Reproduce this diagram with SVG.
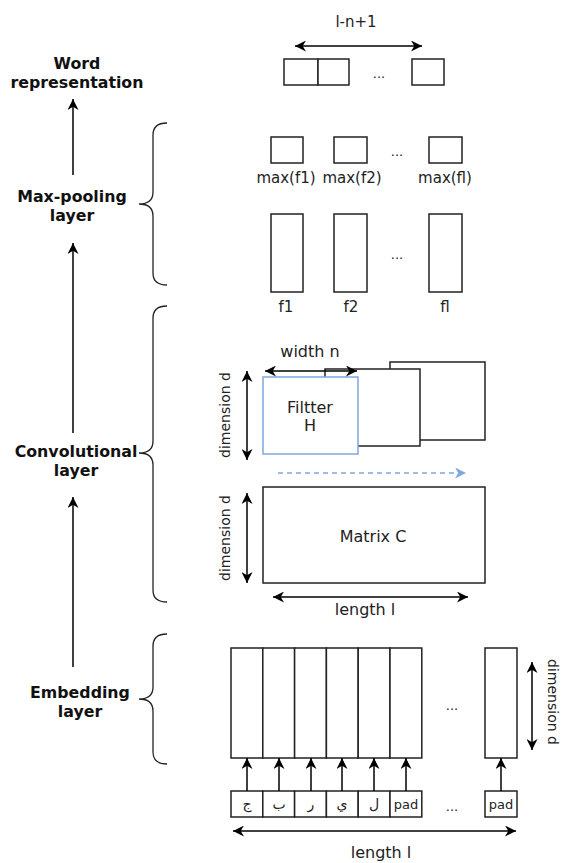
<svg xmlns="http://www.w3.org/2000/svg" width="561" height="863" viewBox="0 0 561 863">
<style>
.t{font-family:"DejaVu Sans","Liberation Sans",sans-serif;fill:#222;text-anchor:middle}
.b{font-family:"DejaVu Sans","Liberation Sans",sans-serif;font-weight:bold;fill:#111;text-anchor:middle;font-size:15.8px}
.box{fill:#fff;stroke:#222;stroke-width:1.5}
.ln{fill:none;stroke:#000;stroke-width:1.5}
.br{fill:none;stroke:#222;stroke-width:1.3}
</style>
<defs>
<marker id="ah" viewBox="0 0 10 10" refX="10" refY="5" markerWidth="11" markerHeight="11" markerUnits="userSpaceOnUse" orient="auto-start-reverse"><path d="M0,0 L10,5 L0,10 L3,5 Z" fill="#000"/></marker>
<marker id="ahb" viewBox="0 0 10 10" refX="10" refY="5" markerWidth="11" markerHeight="11" markerUnits="userSpaceOnUse" orient="auto"><path d="M0,0 L10,5 L0,10 L3,5 Z" fill="#7EA6E0"/></marker>
</defs>
<rect width="561" height="863" fill="#fff"/>

<g id="labels">
<text class="b" x="77" y="69">Word</text>
<text class="b" x="77" y="88">representation</text>
<text class="b" x="72" y="202">Max-pooling</text>
<text class="b" x="72" y="221">layer</text>
<text class="b" x="76" y="457">Convolutional</text>
<text class="b" x="76" y="476">layer</text>
<text class="b" x="80" y="698">Embedding</text>
<text class="b" x="80" y="717">layer</text>
</g>

<g id="braces">
<path class="br" d="M167,123 Q153,123 153,135 L153,192 Q153,204 139,204 Q153,204 153,216 L153,273 Q153,285 167,285"/>
<path class="br" d="M167,306 Q153,306 153,318 L153,441 Q153,453 139,453 Q153,453 153,465 L153,590 Q153,602 167,602"/>
<path class="br" d="M167,634 Q153,634 153,646 L153,687 Q153,699 139,699 Q153,699 153,711 L153,752 Q153,764 167,764"/>
</g>

<g id="word-rep">
<text class="t" x="356" y="27" font-size="15">l-n+1</text>
<rect class="box" x="284" y="59" width="34" height="26"/>
<rect class="box" x="318" y="59" width="31" height="26"/>
<rect class="box" x="412" y="59" width="32" height="26"/>
<text class="t" x="379" y="78" font-size="13">...</text>
</g>

<g id="maxpool">
<rect class="box" x="271" y="137" width="32" height="26"/>
<rect class="box" x="334" y="137" width="33" height="26"/>
<rect class="box" x="429" y="137" width="33" height="26"/>
<text class="t" x="397" y="156" font-size="13">...</text>
<text class="t" x="286" y="183" font-size="15">max(f1)</text>
<text class="t" x="352" y="183" font-size="15">max(f2)</text>
<text class="t" x="445" y="183" font-size="15">max(fl)</text>
</g>

<g id="features">
<rect class="box" x="271" y="214" width="32" height="78"/>
<rect class="box" x="334" y="214" width="33" height="78"/>
<rect class="box" x="429" y="214" width="33" height="78"/>
<text class="t" x="397" y="259" font-size="13">...</text>
<text class="t" x="286" y="312" font-size="15">f1</text>
<text class="t" x="351" y="312" font-size="15">f2</text>
<text class="t" x="445" y="312" font-size="15">fl</text>
</g>

<g id="filters">
<rect class="box" x="390" y="362" width="95" height="78"/>
<rect class="box" x="325" y="369" width="95" height="77"/>
<rect x="263" y="377" width="95" height="77" fill="#fff" stroke="#7EA6E0" stroke-width="1.5"/>
<text class="t" x="310" y="413" font-size="16">Filtter</text>
<text class="t" x="310" y="431" font-size="16">H</text>
<text class="t" x="310" y="357" font-size="16">width n</text>
<text class="t" font-size="14" transform="translate(230,415) rotate(-90)">dimension d</text>
</g>

<g id="matrix-c">
<rect class="box" x="263" y="487" width="222" height="96"/>
<text class="t" x="373" y="542" font-size="16">Matrix C</text>
<text class="t" font-size="14" transform="translate(230,538) rotate(-90)">dimension d</text>
<text class="t" x="365" y="615" font-size="16">length l</text>
</g>

<g id="embedding">
<rect class="box" x="231" y="648" width="31.8" height="110"/>
<rect class="box" x="262.8" y="648" width="31.8" height="110"/>
<rect class="box" x="294.6" y="648" width="31.8" height="110"/>
<rect class="box" x="326.4" y="648" width="31.8" height="110"/>
<rect class="box" x="358.2" y="648" width="31.8" height="110"/>
<rect class="box" x="390" y="648" width="31.8" height="110"/>
<rect class="box" x="485" y="648" width="32" height="110"/>
<text class="t" x="452" y="710" font-size="13">...</text>
<text class="t" font-size="14" transform="translate(548,702) rotate(90)">dimension d</text>
</g>

<g id="chars">
<rect class="box" x="231" y="791" width="31.8" height="26"/>
<rect class="box" x="262.8" y="791" width="31.8" height="26"/>
<rect class="box" x="294.6" y="791" width="31.8" height="26"/>
<rect class="box" x="326.4" y="791" width="31.8" height="26"/>
<rect class="box" x="358.2" y="791" width="31.8" height="26"/>
<rect class="box" x="390" y="791" width="31.8" height="26"/>
<rect class="box" x="485" y="791" width="32" height="26"/>
<text class="t" x="247" y="809" font-size="14">ج</text>
<text class="t" x="279" y="809" font-size="14">ب</text>
<text class="t" x="311" y="809" font-size="14">ر</text>
<text class="t" x="342" y="809" font-size="14">ي</text>
<text class="t" x="374" y="809" font-size="14">ل</text>
<text class="t" x="406" y="809" font-size="13">pad</text>
<text class="t" x="501" y="809" font-size="13">pad</text>
<text class="t" x="452" y="811" font-size="13">...</text>
<text class="t" x="381" y="858" font-size="16">length l</text>
</g>

<g id="connectors">
<line class="ln" x1="73" y1="175" x2="73" y2="99" marker-end="url(#ah)"/>
<line class="ln" x1="73" y1="433" x2="73" y2="243" marker-end="url(#ah)"/>
<line class="ln" x1="73" y1="667" x2="73" y2="497" marker-end="url(#ah)"/>
<line class="ln" x1="295" y1="46" x2="422" y2="46" marker-start="url(#ah)" marker-end="url(#ah)"/>
<line class="ln" x1="265" y1="371" x2="357" y2="371" marker-start="url(#ah)" marker-end="url(#ah)"/>
<line class="ln" x1="247" y1="371" x2="247" y2="460" marker-start="url(#ah)" marker-end="url(#ah)"/>
<line x1="278" y1="473" x2="466" y2="473" stroke="#7EA6E0" stroke-width="1.5" stroke-dasharray="5 4" marker-end="url(#ahb)"/>
<line class="ln" x1="247" y1="493" x2="247" y2="583" marker-start="url(#ah)" marker-end="url(#ah)"/>
<line class="ln" x1="273" y1="597" x2="468" y2="597" marker-start="url(#ah)" marker-end="url(#ah)"/>
<line class="ln" x1="532" y1="662" x2="532" y2="750" marker-start="url(#ah)" marker-end="url(#ah)"/>
<line class="ln" x1="233" y1="831" x2="516" y2="831" marker-start="url(#ah)" marker-end="url(#ah)"/>
<line class="ln" x1="247" y1="791" x2="247" y2="758" marker-end="url(#ah)"/>
<line class="ln" x1="279" y1="791" x2="279" y2="758" marker-end="url(#ah)"/>
<line class="ln" x1="311" y1="791" x2="311" y2="758" marker-end="url(#ah)"/>
<line class="ln" x1="342" y1="791" x2="342" y2="758" marker-end="url(#ah)"/>
<line class="ln" x1="374" y1="791" x2="374" y2="758" marker-end="url(#ah)"/>
<line class="ln" x1="406" y1="791" x2="406" y2="758" marker-end="url(#ah)"/>
<line class="ln" x1="501" y1="791" x2="501" y2="758" marker-end="url(#ah)"/>
</g>
</svg>
